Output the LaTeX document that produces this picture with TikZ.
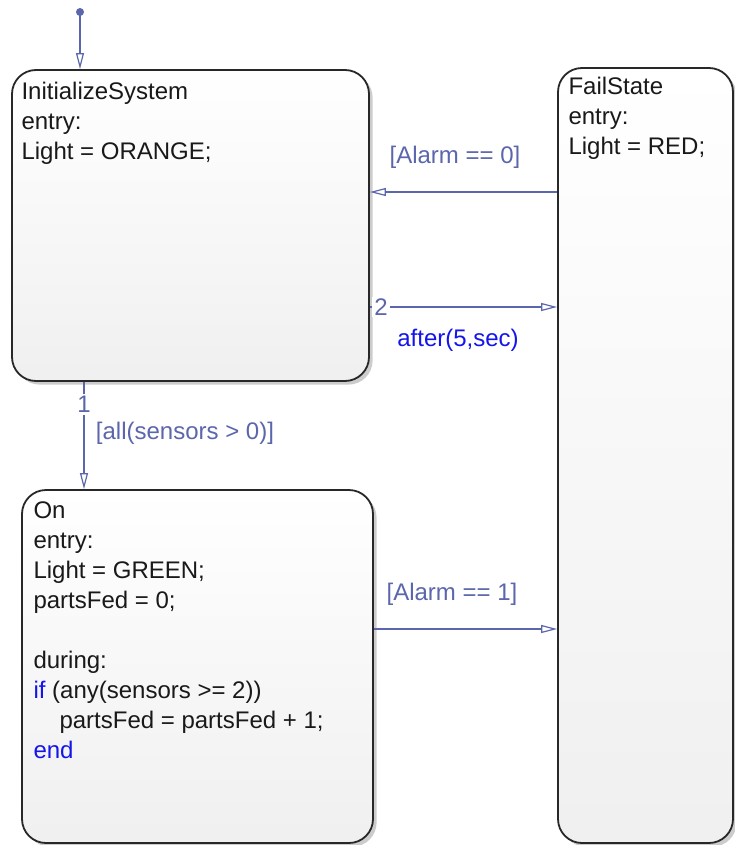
\documentclass[tikz,border=0pt]{standalone}
\usepackage{fontspec}
\setmainfont{Liberation Sans}
\usetikzlibrary{arrows.meta,shadows}
\definecolor{transblue}{RGB}{92,102,172}
\definecolor{kwblue}{RGB}{20,20,235}
\definecolor{stateline}{RGB}{40,40,40}

\begin{document}
\begin{tikzpicture}[x=0.5pt, y=-0.5pt,
  every node/.style={font=\fontsize{12}{15}\selectfont},
  state/.style={draw=stateline, line width=0.9pt, rounded corners=12pt,
    top color=white, bottom color=black!6, inner sep=0pt,
    drop shadow={shadow xshift=1.8pt, shadow yshift=-1.8pt, opacity=0.4}},
  stext/.style={anchor=north west, align=left, inner sep=0pt, text=black!90},
  trans/.style={draw=transblue, line width=0.6pt, -{Triangle[open, length=8pt, width=4pt]}},
  guard/.style={text=transblue},
  action/.style={text=kwblue},
  seqnum/.style={text=transblue, fill=white, inner sep=1pt}]
  \useasboundingbox (0,0) rectangle (734,845);
  \fill[white] (0,0) rectangle (734,845);
  % states
  \node[state, minimum width=178.5pt, minimum height=155.5pt] (init) at (190.5,225.5) {};
  \node[state, minimum width=175.5pt, minimum height=176.5pt] (on) at (197.5,666.5) {};
  \node[state, minimum width=87.5pt, minimum height=387.5pt] (fail) at (645.5,455.5) {};
  \node[stext] (inittext) at ([xshift=5pt, yshift=-6.5pt]init.north west)
    {InitializeSystem\\entry:\\Light = ORANGE;};
  \node[stext] (failtext) at ([xshift=5.5pt, yshift=-5pt]fail.north west)
    {FailState\\entry:\\Light = RED;};
  \node[stext] (ontext) at ([xshift=6pt, yshift=-6pt]on.north west)
    {On\\entry:\\Light = GREEN;\\partsFed = 0;\\[15pt]during:\\
     \textcolor{kwblue}{if} (any(sensors >= 2))\\
     \hspace*{13pt}partsFed = partsFed + 1;\\
     \textcolor{kwblue}{end}};
  % transitions
  \coordinate (dflt) at (80,12);
  \fill[transblue] (dflt) circle (2pt);
  \draw[trans] (dflt) -- (dflt |- init.north);
  \draw[trans] (fail.west |- 0,192) -- (init.east |- 0,192);
  \draw[trans] (init.east |- 0,307) -- node[seqnum, pos=0.06] (s2) {2} (fail.west |- 0,307);
  \draw[trans] (init.south -| 84,0) -- node[seqnum, pos=0.21] (s1) {1} (on.north -| 84,0);
  \draw[trans] (on.east |- 0,629) -- (fail.west |- 0,629);
  % labels
  \node[guard] (g0) at (455,157) {[Alarm == 0]};
  \node[action] (tmr) at (458,340) {after(5,sec)};
  \node[guard] (gall) at (185,433) {[all(sensors > 0)]};
  \node[guard] (g1) at (452,594) {[Alarm == 1]};
\end{tikzpicture}
\end{document}
